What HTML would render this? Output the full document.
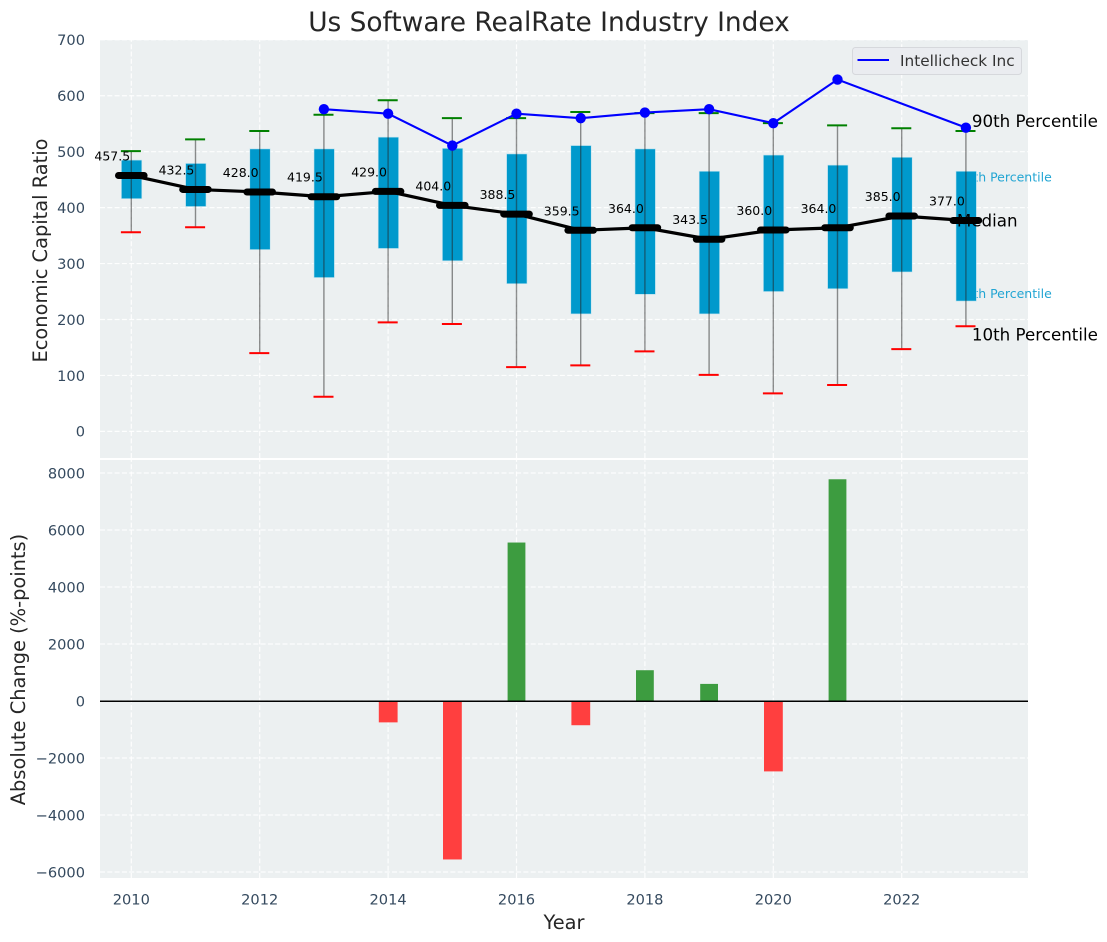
<!DOCTYPE html>
<html lang="en">
<head>
<meta charset="utf-8">
<title>Us Software RealRate Industry Index</title>
<style>
html,body{margin:0;padding:0;background:#fff;}
svg{display:block;font-family:"DejaVu Sans","Liberation Sans",sans-serif;}
.tick{font-size:14.6px;fill:#34495e;}
.axt{font-size:19.4px;fill:#262626;}
</style>
</head>
<body>
<svg id="chart" width="1107" height="942" viewBox="0 0 1107 942" xmlns="http://www.w3.org/2000/svg">
  <rect x="100" y="40" width="928" height="418" fill="#ecf0f1"/>
  <rect x="100" y="460" width="928" height="418" fill="#ecf0f1"/>
  <g id="grid"></g>
  <g id="ticks"></g>
  <g id="under"></g>
  <g id="marks"></g>
  <g id="bars"></g>
  <text x="549" y="31" text-anchor="middle" font-size="26.4" fill="#262626">Us Software RealRate Industry Index</text>
  <text class="axt" transform="translate(47,250.5) rotate(-90)" text-anchor="middle">Economic Capital Ratio</text>
  <text class="axt" transform="translate(25,669.5) rotate(-90)" text-anchor="middle">Absolute Change (%-points)</text>
  <text class="axt" x="564" y="929" text-anchor="middle">Year</text>
  <g>
    <rect x="852.5" y="47.5" width="169" height="27" rx="3" fill="#eaecf0" stroke="#d6d8dc" stroke-width="1"/>
    <line x1="857.5" y1="60" x2="889" y2="60" stroke="#0000ff" stroke-width="2"/>
    <text x="900" y="66" font-size="15.3" fill="#333">Intellicheck Inc</text>
  </g>
</svg>
<script>
const years = [2010,2011,2012,2013,2014,2015,2016,2017,2018,2019,2020,2021,2022,2023];
const p90 = [501,522,537,566,592,560,560,571,569,569,551,547,542,537];
const p75 = [485,479,505,505,526,506,496,511,505,465,494,476,490,465];
const medians = [457.5,432.5,428.0,419.5,429.0,404.0,388.5,359.5,364.0,343.5,360.0,364.0,385.0,377.0];
const p25 = [416,402,325,275,327,305,264,210,245,210,250,255,285,233];
const p10 = [356,365,140,62,195,192,115,118,143,101,68,83,147,188];
const company = [null,null,null,576,568,511,568,560,570,576,551,629,null,543];
const changes = [null,null,null,null,-750,-5560,5560,-850,1080,600,-2470,7780,null,null];
const xTicks = [2010,2012,2014,2016,2018,2020,2022];
const yTicksTop = [0,100,200,300,400,500,600,700];
const yTicksBottom = [-6000,-4000,-2000,0,2000,4000,6000,8000];
const annotationYear = 2023;

const NS = 'http://www.w3.org/2000/svg';
const xScale = v => 131.3 + (v - 2010) * 64.2;
const yTop = v => 431.4 - v * 0.5594;
const yBot = v => 701 - v * 0.0285;

function mk(tag, attrs, parent, txt) {
  const el = document.createElementNS(NS, tag);
  for (const k in attrs) el.setAttribute(k, attrs[k]);
  if (txt !== undefined) el.textContent = txt;
  parent.appendChild(el);
  return el;
}
const grid = document.getElementById('grid');
const ticks = document.getElementById('ticks');
const under = document.getElementById('under');
const marks = document.getElementById('marks');
const bars = document.getElementById('bars');
const gridStyle = {stroke:'#ffffff','stroke-width':1.2,'stroke-dasharray':'5 2.3','stroke-opacity':0.9};

xTicks.forEach(t => {
  const x = xScale(t);
  const a = mk('line', Object.assign({x1:x,x2:x,y1:458,y2:40}, gridStyle), grid);
  
  
  const b = mk('line', Object.assign({x1:x,x2:x,y1:878,y2:460}, gridStyle), grid);
  
  
  const l = mk('text', {class:'tick',x:x,y:904.5,'text-anchor':'middle'}, ticks, String(t));
  
  
});
yTicksTop.forEach(t => {
  const y = yTop(t);
  const a = mk('line', Object.assign({x1:100,x2:1028,y1:y,y2:y}, gridStyle), grid);
  
  
  const l = mk('text', {class:'tick',x:85,y:y+5.3,'text-anchor':'end'}, ticks, String(t));
  
  
});
yTicksBottom.forEach(t => {
  const y = yBot(t);
  const a = mk('line', Object.assign({x1:100,x2:1028,y1:y,y2:y}, gridStyle), grid);
  
  
  const l = mk('text', {class:'tick',x:85,y:y+5.3,'text-anchor':'end'}, ticks, String(t).replace('-', '\u2212'));
  
  
});

const lastI = years.indexOf(annotationYear);
const ax = xScale(annotationYear);

const t75 = mk('text', {x:ax-8.5,y:yTop(p75[lastI])+10,'font-size':12.5,fill:'#22a5d3'}, under, '75th Percentile');


const t25 = mk('text', {x:ax-8.5,y:yTop(p25[lastI])-3,'font-size':12.5,fill:'#22a5d3'}, under, '25th Percentile');



years.forEach((yr, i) => {
  const x = xScale(yr);
  const box = mk('rect', {x:x-9.9,y:yTop(p75[i]),width:20.4,height:yTop(p25[i])-yTop(p75[i]),fill:'#0099cc',stroke:'#bfe3ef','stroke-width':0.6}, marks);
  
  
  const w = mk('line', {x1:x,x2:x,y1:yTop(p10[i]),y2:yTop(p90[i]),stroke:'#222','stroke-opacity':0.5,'stroke-width':1.4}, marks);
  
  
  const c1 = mk('line', {x1:x-10.4,x2:x+9.6,y1:yTop(p90[i]),y2:yTop(p90[i]),stroke:'#008000','stroke-width':2}, marks);
  
  
  const c2 = mk('line', {x1:x-10.4,x2:x+9.6,y1:yTop(p10[i]),y2:yTop(p10[i]),stroke:'#ff0000','stroke-width':2}, marks);
  
  
});

const medLine = mk('polyline', {points:years.map((yr,i)=>xScale(yr)+','+yTop(medians[i])).join(' '),fill:'none',stroke:'#000','stroke-width':3.2}, marks);



years.forEach((yr, i) => {
  const x = xScale(yr), y = yTop(medians[i]);
  const m = mk('line', {x1:x-12.8,x2:x+12.8,y1:y,y2:y,stroke:'#000','stroke-width':7,'stroke-linecap':'round'}, marks);
  
  
  const t = mk('text', {x:x-19,y:y-15,'text-anchor':'middle','font-size':12.5,fill:'#000'}, marks, medians[i].toFixed(1));
  
  
});

const pts = years.map((yr,i)=>company[i]===null?null:[xScale(yr),yTop(company[i])]).filter(Boolean);
const cl = mk('polyline', {points:pts.map(p=>p.join(',')).join(' '),fill:'none',stroke:'#0000ff','stroke-width':2.1}, marks);


pts.forEach(p => {
  const d = mk('circle', {cx:p[0],cy:p[1],r:5.2,fill:'#0000ff'}, marks);
  
  
});

const a90 = mk('text', {x:ax+6,y:yTop(p90[lastI])-4,'font-size':16.7,fill:'#000'}, marks, '90th Percentile');


const aMed = mk('text', {x:ax-9,y:yTop(medians[lastI])+6,'font-size':16.7,fill:'#000'}, marks, 'Median');


const a10 = mk('text', {x:ax+6,y:yTop(p10[lastI])+14.5,'font-size':16.7,fill:'#000'}, marks, '10th Percentile');



years.forEach((yr, i) => {
  const v = changes[i];
  if (v === null) return;
  const x = xScale(yr);
  const top = v >= 0 ? yBot(v) : yBot(0);
  const h = Math.abs(yBot(v) - yBot(0));
  const r = mk('rect', {x:v >= 0 ? x-8.9 : x-9.3,y:top,width:v >= 0 ? 17.8 : 18.8,height:h,fill:v >= 0 ? '#3d9c40' : '#ff3f3f'}, bars);
  
  
});
const zero = mk('line', {x1:100,x2:1028,y1:yBot(0)+0.3,y2:yBot(0)+0.3,stroke:'#000','stroke-width':1.5}, bars);


</script>
</body>
</html>
